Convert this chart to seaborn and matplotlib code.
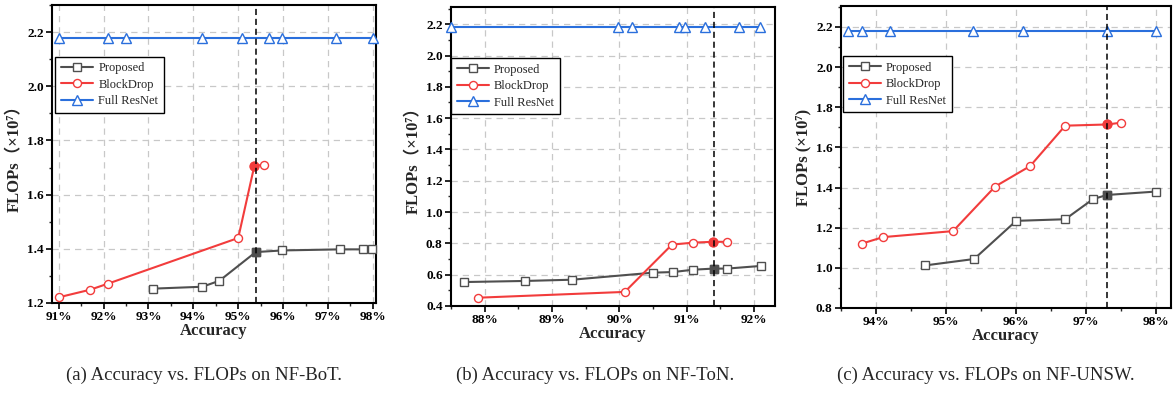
import numpy as np
import pandas as pd
import seaborn as sns
import matplotlib
matplotlib.use("Agg")
import matplotlib.pyplot as plt
from matplotlib.ticker import MultipleLocator, FuncFormatter

sns.set_theme(style="ticks")
plt.rcParams['font.family'] = ['Liberation Serif', 'Noto Sans CJK SC', 'DejaVu Sans']

# ---------------- data ----------------
# (a) NF-BoT
bot_prop_x = [93.1, 94.2, 94.58, 95.39, 95.98, 97.27, 97.78, 97.99]
bot_prop_y = [1.253, 1.260, 1.282, 1.388, 1.394, 1.398, 1.398, 1.400]
bot_bd_x = [91.0, 91.7, 92.09, 95.0, 95.36, 95.57]
bot_bd_y = [1.221, 1.249, 1.271, 1.440, 1.707, 1.710]
bot_full_x = [91.0, 92.1, 92.5, 94.19, 95.08, 95.68, 95.98, 97.18, 98.0]
bot_full_y = [2.18, 2.18, 2.18, 2.18, 2.18, 2.18, 2.18, 2.18, 2.18]
bot_vline = 95.39
bot_hl_prop = 3
bot_hl_bd = 4

# (b) NF-ToN
ton_prop_x = [87.69, 88.6, 89.3, 90.5, 90.8, 91.1, 91.4, 91.6, 92.1]
ton_prop_y = [0.553, 0.560, 0.568, 0.613, 0.617, 0.632, 0.639, 0.639, 0.656]
ton_bd_x = [87.9, 90.08, 90.78, 91.1, 91.39, 91.6]
ton_bd_y = [0.453, 0.490, 0.792, 0.805, 0.810, 0.810]
ton_full_x = [87.5, 89.98, 90.18, 90.88, 90.98, 91.27, 91.77, 92.08]
ton_full_y = [2.18, 2.18, 2.18, 2.18, 2.18, 2.18, 2.18, 2.18]
ton_vline = 91.40
ton_hl_prop = 6
ton_hl_bd = 4

# (c) NF-UNSW
unsw_prop_x = [94.7, 95.4, 96.0, 96.7, 97.1, 97.3, 98.0]
unsw_prop_y = [1.012, 1.044, 1.234, 1.242, 1.343, 1.363, 1.380]
unsw_bd_x = [93.8, 94.1, 95.1, 95.7, 96.2, 96.7, 97.3, 97.5]
unsw_bd_y = [1.121, 1.153, 1.183, 1.405, 1.507, 1.708, 1.714, 1.723]
unsw_full_x = [93.6, 93.8, 94.2, 95.39, 96.1, 97.3, 98.0]
unsw_full_y = [2.18, 2.18, 2.18, 2.18, 2.18, 2.18, 2.18]
unsw_vline = 97.30
unsw_hl_prop = 5
unsw_hl_bd = 6

captions = ["(a) Accuracy vs. FLOPs on NF-BoT.",
            "(b) Accuracy vs. FLOPs on NF-ToN.",
            "(c) Accuracy vs. FLOPs on NF-UNSW."]
ylabels = ["FLOPs（×10⁷）", "FLOPs（×10⁷）", "FLOPs (×10⁷)"]
series_names = ["Proposed", "BlockDrop", "Full ResNet"]

# ---------------- style ----------------
C_PROP = '#4f4f4f'
C_BD = '#f23c3c'
C_FULL = '#2a6fdc'

fig = plt.figure(figsize=(11.73, 3.95), dpi=100)
positions = [
    [52/1173, (395-303)/395, 324/1173, 298/395],
    [451/1173, (395-306)/395, 324/1173, 299/395],
    [841/1173, (395-308)/395, 330/1173, 302/395],
]
xlims = [(90.85, 98.07), (87.5, 92.31), (93.5, 98.21)]
ylims = [(1.2, 2.3), (0.4, 2.31), (0.8, 2.304)]
leg_anchor = [(0.01, 0.826), (0.0, 0.829), (0.006, 0.834)]
cap_x = [0.1743, 0.507, 0.84]

panels = [
    (bot_prop_x, bot_prop_y, bot_bd_x, bot_bd_y, bot_full_x, bot_full_y, bot_vline, bot_hl_prop, bot_hl_bd),
    (ton_prop_x, ton_prop_y, ton_bd_x, ton_bd_y, ton_full_x, ton_full_y, ton_vline, ton_hl_prop, ton_hl_bd),
    (unsw_prop_x, unsw_prop_y, unsw_bd_x, unsw_bd_y, unsw_full_x, unsw_full_y, unsw_vline, unsw_hl_prop, unsw_hl_bd),
]

ms = 5.8
lw = 1.5
for i, (px, py, bx, by, fx, fy, vl, hp, hb) in enumerate(panels):
    ax = fig.add_axes(positions[i])
    ax.grid(True, which='major', color='#c8c8c8', linestyle=(0, (5, 4)), linewidth=0.9)
    ax.set_axisbelow(True)
    for (xs, ys, c, m, name) in [(px, py, C_PROP, 's', series_names[0]),
                                  (bx, by, C_BD, 'o', series_names[1]),
                                  (fx, fy, C_FULL, '^', series_names[2])]:
        sns.lineplot(x=xs, y=ys, ax=ax, color=c, marker=m, markersize=ms + (0.8 if m == '^' else 0),
                     markerfacecolor='white', markeredgecolor=c, markeredgewidth=1.0,
                     linewidth=lw, label=name, estimator=None, sort=False, clip_on=False, zorder=3)
    ax.plot([px[hp]], [py[hp]], marker='s', color=C_PROP, markersize=ms, linestyle='none', zorder=4)
    ax.plot([bx[hb]], [by[hb]], marker='o', color=C_BD, markersize=ms + 0.6, linestyle='none', zorder=4)
    ax.axvline(vl, color='black', linestyle=(0, (4, 2.5)), linewidth=1.1, zorder=5)

    ax.set_xlim(*xlims[i])
    ax.set_ylim(*ylims[i])
    ax.xaxis.set_major_locator(MultipleLocator(1.0))
    ax.xaxis.set_minor_locator(MultipleLocator(0.5))
    ax.yaxis.set_major_locator(MultipleLocator(0.2))
    ax.yaxis.set_minor_locator(MultipleLocator(0.1))
    ax.xaxis.set_major_formatter(FuncFormatter(lambda v, p: f"{v:.0f}%"))
    ax.yaxis.set_major_formatter(FuncFormatter(lambda v, p: f"{v:.1f}"))
    ax.tick_params(which='major', direction='out', length=4, width=1.2, labelsize=9.5, pad=2,
                   top=False, right=False, colors='black')
    ax.tick_params(which='minor', direction='out', length=2.5, width=1.0, top=False, right=False)
    for lab in ax.get_xticklabels() + ax.get_yticklabels():
        lab.set_fontweight('bold')
    for sp in ax.spines.values():
        sp.set_visible(True)
        sp.set_color('black')
        sp.set_linewidth(1.5)
    ax.set_xlabel("Accuracy", fontsize=12, fontweight='bold', labelpad=0)
    ax.set_ylabel(ylabels[i], fontsize=12, fontweight='bold', labelpad=3)

    leg = ax.legend(loc='upper left', bbox_to_anchor=leg_anchor[i], frameon=True, fancybox=False,
                    edgecolor='black', framealpha=1, fontsize=9, handlelength=2.6,
                    labelspacing=0.35, borderpad=0.45, handletextpad=0.4, borderaxespad=0)
    leg.get_frame().set_linewidth(1.0)

    fig.text(cap_x[i], 0.05, captions[i], ha='center', va='center', fontsize=13.5)

fig.savefig("out.png", dpi=100)
